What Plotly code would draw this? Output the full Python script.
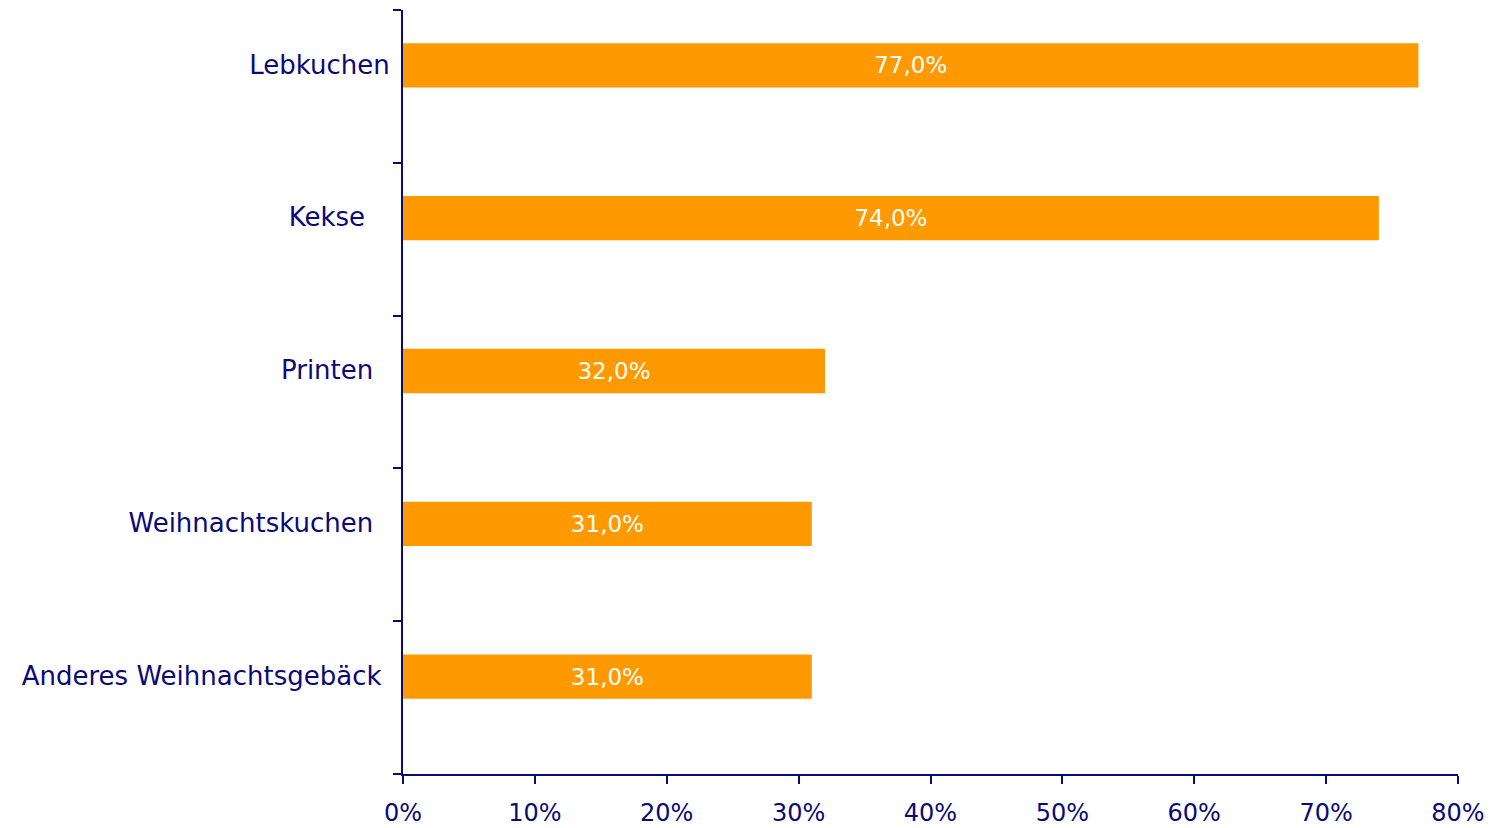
import plotly.graph_objects as go

categories = ["Lebkuchen", "Kekse", "Printen", "Weihnachtskuchen", "Anderes Weihnachtsgebäck"]
values = [77.0, 74.0, 32.0, 31.0, 31.0]
tick_vals = [0, 10, 20, 30, 40, 50, 60, 70, 80]
tick_text = ["0%", "10%", "20%", "30%", "40%", "50%", "60%", "70%", "80%"]
# trailing padding mimics the uneven label alignment of the original
label_pad = [0, 3, 2, 2, 1]

navy = "#0a0a78"
orange = "#FF9900"
font_family = "DejaVu Sans"

labels = [f"{v:.1f}%".replace(".", ",") for v in values]
cat_text = [c + "\u00a0" * p for c, p in zip(categories, label_pad)]

fig = go.Figure(go.Bar(
    x=values,
    y=categories,
    orientation="h",
    marker=dict(color=orange, line=dict(width=0)),
    width=0.29,
    offset=-0.0075,
    text=labels,
    textposition="inside",
    insidetextanchor="middle",
    textangle=0,
    textfont=dict(color="white", size=23, family=font_family),
    hoverinfo="skip",
))

fig.update_layout(
    width=1495,
    height=828,
    margin=dict(l=403, r=37, t=10, b=54),
    paper_bgcolor="white",
    plot_bgcolor="white",
    showlegend=False,
    uniformtext=dict(mode=False),
    xaxis=dict(
        range=[0, 80],
        tickmode="array",
        tickvals=tick_vals,
        ticktext=tick_text,
        showgrid=False,
        zeroline=False,
        showline=True,
        linecolor=navy,
        linewidth=2,
        ticks="outside",
        ticklen=8,
        tickwidth=2,
        tickcolor=navy,
        tickfont=dict(color=navy, size=24, family=font_family),
        ticklabelstandoff=8,
        automargin=False,
        fixedrange=True,
    ),
    yaxis=dict(
        categoryorder="array",
        categoryarray=categories[::-1],
        tickmode="array",
        tickvals=categories[::-1],
        ticktext=cat_text[::-1],
        range=[-0.5, 4.5],
        showgrid=False,
        zeroline=False,
        showline=True,
        linecolor=navy,
        linewidth=2,
        ticks="outside",
        tickson="boundaries",
        ticklen=8,
        tickwidth=2,
        tickcolor=navy,
        tickfont=dict(color=navy, size=26, family=font_family),
        ticklabelstandoff=6,
        ticklabelshift=-22,
        automargin=False,
        fixedrange=True,
    ),
)

fig.write_html(
    "out.html",
    config={"displayModeBar": False},
    post_script="document.body.style.margin='0';document.body.style.overflow='hidden';",
)
